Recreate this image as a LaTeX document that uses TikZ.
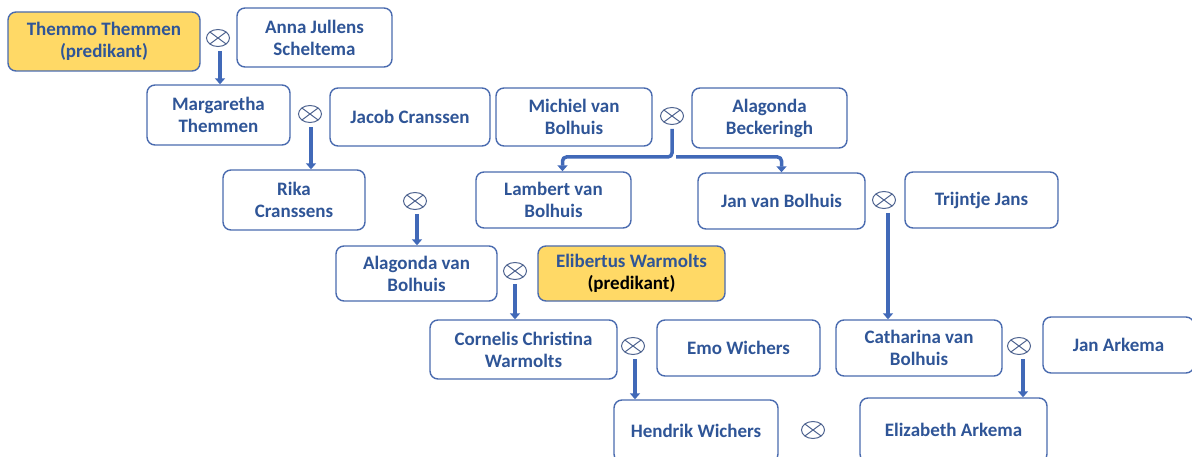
\documentclass[tikz,border=0pt]{standalone}
\usepackage{fontspec}
\setmainfont{Carlito}
\usetikzlibrary{arrows.meta,shapes.geometric}
\definecolor{nameblue}{HTML}{2F5597}
\definecolor{boxline}{HTML}{4A6BAF}
\definecolor{linkblue}{HTML}{4169B8}
\definecolor{wedgray}{HTML}{4F6490}
\definecolor{pastor}{HTML}{FFD966}
\begin{document}
\begin{tikzpicture}[
    x=1pt, y=-1pt,
    person/.style={draw=boxline, line width=1.4pt, rounded corners=8pt, fill=white,
        align=center, inner sep=0pt, text=nameblue,
        font=\fontsize{19}{22}\selectfont\bfseries},
    predikant/.style={person, fill=pastor},
    wed/.style={ellipse, draw=wedgray, line width=1pt, minimum width=23pt,
        minimum height=17pt, inner sep=0pt,
        path picture={\draw[wedgray, line width=1pt]
            (path picture bounding box.north west) -- (path picture bounding box.south east)
            (path picture bounding box.north east) -- (path picture bounding box.south west);}},
    child/.style={draw=linkblue, line width=3.5pt, -{Triangle[width=10pt,length=6pt]},
        shorten <=4pt}
]
    \useasboundingbox (0,0) rectangle (1192,457);
    \clip (0,0) rectangle (1192,457);

    % People
    \node[predikant, minimum width=192pt, minimum height=59pt] (themmo) at (104,41.5) {Themmo Themmen\\(predikant)};
    \node[person, minimum width=155pt, minimum height=59pt] (anna) at (314.5,37.5) {Anna Jullens\\Scheltema};
    \node[person, minimum width=143pt, minimum height=60pt] (margaretha) at (218.5,115) {Margaretha\\Themmen};
    \node[person, minimum width=160pt, minimum height=58pt] (jacob) at (410,117) {Jacob Cranssen};
    \node[person, minimum width=156pt, minimum height=58pt] (michiel) at (574,117) {Michiel van\\Bolhuis};
    \node[person, minimum width=155pt, minimum height=60pt] (beckeringh) at (769.5,118) {Alagonda\\Beckeringh};
    \node[person, minimum width=142pt, minimum height=60pt] (rika) at (294,200) {Rika\\Cranssens};
    \node[person, minimum width=155pt, minimum height=56pt] (lambert) at (553.5,200) {Lambert van\\Bolhuis};
    \node[person, minimum width=167pt, minimum height=56pt] (jan) at (781.5,201) {Jan van Bolhuis};
    \node[person, minimum width=153pt, minimum height=56pt] (trijntje) at (981.5,200) {Trijntje Jans};
    \node[person, minimum width=161pt, minimum height=55pt] (alagonda) at (416.5,273.5) {Alagonda van\\Bolhuis};
    \node[predikant, minimum width=187pt, minimum height=55pt] (elibertus) at (631.5,273.5) {Elibertus Warmolts\\\textcolor{black}{(predikant)}};
    \node[person, minimum width=187pt, minimum height=59pt] (cornelis) at (523.5,349.5) {Cornelis Christina\\Warmolts};
    \node[person, minimum width=163pt, minimum height=56pt] (emo) at (738.5,348) {Emo Wichers};
    \node[person, minimum width=166pt, minimum height=56pt] (catharina) at (919,348) {Catharina van\\Bolhuis};
    \node[person, minimum width=151pt, minimum height=56pt] (arkema) at (1118.5,345) {Jan Arkema};
    \node[person, minimum width=164pt, minimum height=62pt] (hendrik) at (696,431) {Hendrik Wichers};
    \node[person, minimum width=187pt, minimum height=64pt] (elizabeth) at (953.5,430) {Elizabeth Arkema};

    % Marriages
    \node[wed] (w1) at (218,38) {};
    \node[wed] (w2) at (310,114) {};
    \node[wed] (w3) at (672,116) {};
    \node[wed] (w4) at (884,200) {};
    \node[wed] (w5) at (415,201) {};
    \node[wed] (w6) at (515,271) {};
    \node[wed] (w7) at (633,346) {};
    \node[wed] (w8) at (1019,346) {};
    \node[wed] (w9) at (813,430) {};
    \coordinate (split) at (672,157);

    % Descent
    \draw[child] ([xshift=2pt]w1.south) -- ([xshift=2pt]w1.south |- margaretha.north);
    \draw[child] ([xshift=1pt]w2.south) -- ([xshift=1pt]w2.south |- rika.north);
    \draw[child, rounded corners=4pt] (w3.south) -- (split) -| ([xshift=9pt]lambert.north);
    \draw[child, rounded corners=4pt] (split) -| (jan.north);
    \draw[child] ([xshift=4pt]w4.south) -- ([xshift=4pt]w4.south |- catharina.north);
    \draw[child] ([xshift=2pt]w5.south) -- ([xshift=2pt]w5.south |- alagonda.north);
    \draw[child] (w6.south) -- (w6.south |- cornelis.north);
    \draw[child] ([xshift=2pt]w7.south) -- ([xshift=2pt]w7.south |- hendrik.north);
    \draw[child] ([xshift=4pt]w8.south) -- ([xshift=4pt]w8.south |- elizabeth.north);
\end{tikzpicture}
\end{document}
